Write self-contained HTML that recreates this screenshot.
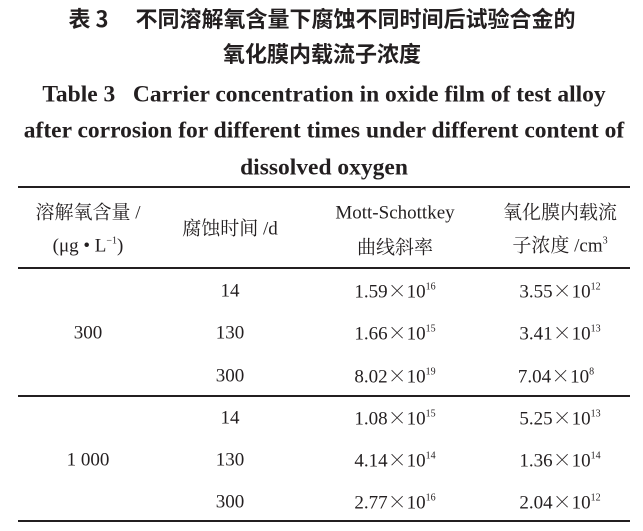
<!DOCTYPE html>
<html><head><meta charset="utf-8"><style>
body{margin:0;width:643px;height:531px;background:#fff;position:relative;overflow:hidden;font-family:"Liberation Serif","Noto Serif CJK SC",serif;color:#231f20}
.t{position:absolute;white-space:nowrap;transform:translate(-50%,-50%);line-height:1}
.b{font-weight:bold}
.ln{position:absolute;left:18px;width:612px;background:#231f20}
.c{font-size:19px}
.h{font-size:19px}
.x{font-family:"Noto Serif CJK SC",serif;line-height:1}
sup{font-size:10px;vertical-align:8px;line-height:0}
</style></head><body>
<div class="t b" style="left:322px;top:18px;font-size:22px;font-family:'Noto Sans CJK SC',sans-serif">表 3　 不同溶解氧含量下腐蚀不同时间后试验合金的</div>
<div class="t b" style="left:322px;top:53px;font-size:22px;font-family:'Noto Sans CJK SC',sans-serif">氧化膜内载流子浓度</div>
<div class="t b" style="left:324px;top:95px;font-size:23.5px">Table 3&nbsp;&nbsp;&nbsp;Carrier concentration in oxide film of test alloy</div>
<div class="t b" style="left:324px;top:131px;font-size:23.5px">after corrosion for different times under different content of</div>
<div class="t b" style="left:324px;top:168px;font-size:23.5px">dissolved oxygen</div>
<div class="ln" style="top:186px;height:2px"></div>
<div class="ln" style="top:267px;height:1.5px"></div>
<div class="ln" style="top:395px;height:1.5px"></div>
<div class="ln" style="top:520px;height:2px"></div>
<div class="t h" style="left:88px;top:213px">溶解氧含量 /</div>
<div class="t h" style="left:88px;top:246px">(μg • L<sup>−1</sup>)</div>
<div class="t h" style="left:230px;top:229px">腐蚀时间 /d</div>
<div class="t h" style="left:395px;top:213px">Mott-Schottkey</div>
<div class="t h" style="left:395px;top:248px">曲线斜率</div>
<div class="t h" style="left:560px;top:213px">氧化膜内载流</div>
<div class="t h" style="left:560px;top:246px">子浓度 /cm<sup>3</sup></div>
<div class="t c" style="left:88px;top:333px">300</div>
<div class="t c" style="left:88px;top:460px">1 000</div>
<div class="t c" style="left:230px;top:291px">14</div>
<div class="t c" style="left:230px;top:333px">130</div>
<div class="t c" style="left:230px;top:376px">300</div>
<div class="t c" style="left:230px;top:418px">14</div>
<div class="t c" style="left:230px;top:460px">130</div>
<div class="t c" style="left:230px;top:502px">300</div>
<div class="t c" style="left:395px;top:291px">1.59<span class="x">×</span>10<sup>16</sup></div>
<div class="t c" style="left:395px;top:333px">1.66<span class="x">×</span>10<sup>15</sup></div>
<div class="t c" style="left:395px;top:376px">8.02<span class="x">×</span>10<sup>19</sup></div>
<div class="t c" style="left:395px;top:418px">1.08<span class="x">×</span>10<sup>15</sup></div>
<div class="t c" style="left:395px;top:460px">4.14<span class="x">×</span>10<sup>14</sup></div>
<div class="t c" style="left:395px;top:502px">2.77<span class="x">×</span>10<sup>16</sup></div>
<div class="t c" style="left:560px;top:291px">3.55<span class="x">×</span>10<sup>12</sup></div>
<div class="t c" style="left:560px;top:333px">3.41<span class="x">×</span>10<sup>13</sup></div>
<div class="t c" style="left:556px;top:376px">7.04<span class="x">×</span>10<sup>8</sup></div>
<div class="t c" style="left:560px;top:418px">5.25<span class="x">×</span>10<sup>13</sup></div>
<div class="t c" style="left:560px;top:460px">1.36<span class="x">×</span>10<sup>14</sup></div>
<div class="t c" style="left:560px;top:502px">2.04<span class="x">×</span>10<sup>12</sup></div>
</body></html>
